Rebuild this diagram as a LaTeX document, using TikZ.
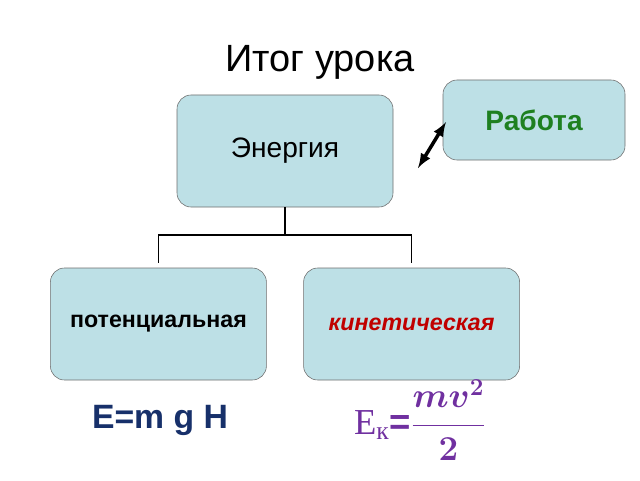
\documentclass[tikz,border=0pt]{standalone}
\usepackage{amsmath,bm}
\usepackage{fontspec}
\setmainfont{Liberation Sans}
\newfontfamily\serifpart{Liberation Serif}
\usetikzlibrary{positioning}
\definecolor{boxfill}{HTML}{BDE0E6}
\definecolor{boxline}{HTML}{6E6E6E}
\definecolor{greentxt}{HTML}{1E8020}
\definecolor{redtxt}{HTML}{C00000}
\definecolor{bluetxt}{HTML}{17306A}
\definecolor{purpletxt}{HTML}{7030A0}
\tikzset{
  topicbox/.style={draw=boxline,fill=boxfill,rounded corners=10pt,minimum width=5.4cm,minimum height=2.8cm},
  linkline/.style={line width=1.2pt}
}
\begin{document}
\begin{tikzpicture}
  \useasboundingbox (0,0) rectangle (16,12);

  \node (title) at (8,10.45) {\fontsize{27}{30}\selectfont Итог урока};

  \node[topicbox] (energy) at (7.125,8.225) {\fontsize{20}{24}\selectfont Энергия};
  \node[topicbox,minimum width=4.55cm,minimum height=2cm] (work) at (13.35,9.0)
    {\fontsize{20}{24}\selectfont\bfseries\color{greentxt}Работа};
  \node[topicbox] (pot) at (3.96,3.9) {\fontsize{16.5}{20}\selectfont\bfseries потенциальная};
  \node[topicbox] (kin) at (10.29,3.9) {\fontsize{16.5}{20}\selectfont\bfseries\itshape\color{redtxt}кинетическая};

  % tree
  \coordinate (fork) at (7.125,6.125);
  \draw[linkline] (energy.south) -- (fork);
  \draw[linkline] (fork) -| ([yshift=0.125cm]pot.north);
  \draw[linkline] (fork) -| ([yshift=0.125cm]kin.north);

  % link to work
  \coordinate (arrA) at (10.45,7.8);
  \coordinate (arrB) at (11.15,8.95);
  \draw[line width=2.5pt,<->,>=latex] (arrA) -- (arrB);

  \node[text=bluetxt] (potf) at (4.0,1.5) {\fontsize{24}{28}\selectfont\bfseries E=m g H};
  \node[text=purpletxt] (kinf) at (10.5,1.5)
    {\fontsize{26}{30}\selectfont{\serifpart Е\textsubscript{к}}\textbf{=}$\displaystyle\bm{\frac{mv^2}{2}}$};
\end{tikzpicture}
\end{document}
